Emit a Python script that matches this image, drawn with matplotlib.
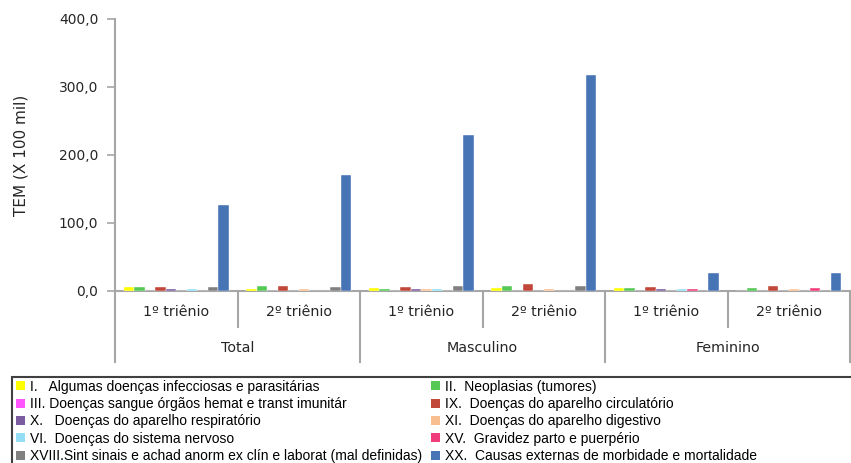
import matplotlib.pyplot as plt
import matplotlib.transforms as mtransforms
from matplotlib.patches import Rectangle, Patch
import numpy as np

# sub-categories (triênios) and main groups
subgroups = ['1º triênio', '2º triênio'] * 3
groups = ['Total', 'Masculino', 'Feminino']

series_names = [
    'I.   Algumas doenças infecciosas e parasitárias',
    'II.  Neoplasias (tumores)',
    'III. Doenças sangue órgãos hemat e transt imunitár',
    'IX.  Doenças do aparelho circulatório',
    'X.   Doenças do aparelho respiratório',
    'XI.  Doenças do aparelho digestivo',
    'VI.  Doenças do sistema nervoso',
    'XV.  Gravidez parto e puerpério',
    'XVIII.Sint sinais e achad anorm ex clín e laborat (mal definidas)',
    'XX.  Causas externas de morbidade e mortalidade',
]
colors = ['#FFFF00', '#55C855', '#FF55FF', '#C0473A', '#7B5C9E',
          '#F9BE90', '#93DDF5', '#F03C7A', '#808080', '#4674B4']

# values per series, one per subgroup (Total 1º, Total 2º, Masc 1º, Masc 2º, Fem 1º, Fem 2º)
v_I = [5.5, 2.5, 5.0, 5.0, 4.5, 0.0]
v_II = [5.5, 7.5, 3.0, 7.5, 4.5, 5.0]
v_III = [0.0, 0.0, 0.0, 0.0, 0.0, 0.0]
v_IX = [5.5, 7.5, 5.5, 10.0, 5.5, 7.5]
v_X = [3.0, 0.0, 3.0, 0.0, 2.5, 0.0]
v_XI = [0.0, 2.5, 2.5, 2.5, 0.0, 2.5]
v_VI = [2.5, 0.0, 2.5, 0.0, 2.5, 0.0]
v_XV = [0.0, 0.0, 0.0, 0.0, 2.5, 5.0]
v_XVIII = [5.5, 5.5, 7.0, 7.0, 1.5, 2.0]
v_XX = [126.5, 170.0, 230.0, 318.0, 27.0, 27.0]
values = [v_I, v_II, v_III, v_IX, v_X, v_XI, v_VI, v_XV, v_XVIII, v_XX]

fig = plt.figure(figsize=(8.51, 4.63), dpi=100)
W, H = 851, 463
ax = fig.add_axes([115 / W, (H - 291) / H, 735 / W, 272 / H])

x = np.arange(len(subgroups))
n = len(values)
w = 0.086
for i, (vals, c) in enumerate(zip(values, colors)):
    ax.bar(x + (i - (n - 1) / 2) * w, vals, width=w, color=c,
           edgecolor='white', linewidth=0.3, zorder=3)

ax.set_xlim(-0.5, len(subgroups) - 0.5)
ax.set_ylim(0, 400)
ax.set_yticks([0, 100, 200, 300, 400])
ax.set_yticklabels([f'{t:.1f}'.replace('.', ',') for t in [0, 100, 200, 300, 400]],
                   fontsize=10, color='#262626')
ax.tick_params(axis='y', length=6, width=1.2, color='#a6a6a6', pad=6)
ax.tick_params(axis='x', length=0, labelbottom=False)
ax.set_ylabel('TEM (X 100 mil)', fontsize=11, labelpad=22, color='#262626')

for s in ['top', 'right']:
    ax.spines[s].set_visible(False)
for s in ['left', 'bottom']:
    ax.spines[s].set_color('#a6a6a6')
    ax.spines[s].set_linewidth(1.5)

# multi-level category axis
trans = mtransforms.blended_transform_factory(ax.transData, ax.transAxes)
short = -36 / 272
long_ = -71 / 272
for k in range(len(subgroups) + 1):
    xb = k - 0.5
    yb = long_ if k % 2 == 0 else short
    ax.plot([xb, xb], [0, yb], transform=trans, color='#a6a6a6',
            linewidth=1.5, clip_on=False)
for k, lab in enumerate(subgroups):
    ax.text(k, -21 / 272, lab, transform=trans, ha='center', va='center',
            fontsize=10.3, color='#262626')
for g, lab in enumerate(groups):
    ax.text(2 * g + 0.5, -57 / 272, lab, transform=trans, ha='center',
            va='center', fontsize=10.3, color='#262626')

# legend frame
fig.patches.append(Rectangle((12 / W, -0.01), 842 / W, (H - 377) / H + 0.01,
                             transform=fig.transFigure, fill=False,
                             edgecolor='#404040', linewidth=1.5))

handles = [Patch(facecolor=c, edgecolor='none') for c in colors]
# legend fills column-wise; reference reads row-wise
order = [0, 2, 4, 6, 8, 1, 3, 5, 7, 9]
fig.legend([handles[i] for i in order], [series_names[i] for i in order],
           ncol=2, loc='upper left', bbox_to_anchor=(6 / W, (H - 370) / H),
           frameon=False, prop={'family': 'Liberation Sans', 'size': 10.0},
           handlelength=0.65, handleheight=0.65, handletextpad=0.35,
           labelspacing=0.24, columnspacing=0.7, borderpad=0.2)

fig.savefig('out.png', dpi=100)
